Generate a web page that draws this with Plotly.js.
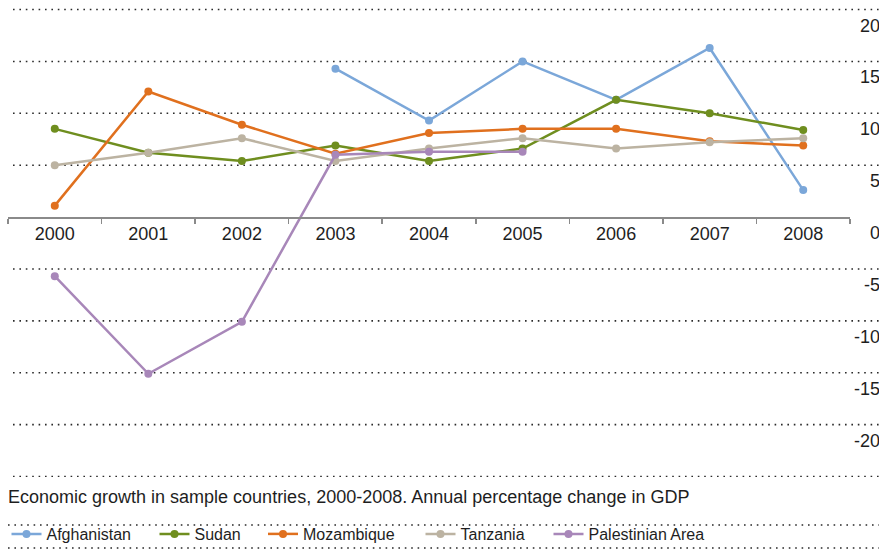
<!DOCTYPE html>
<html><head><meta charset="utf-8">
<script src="https://cdn.plot.ly/plotly-3.0.1.min.js"></script>
<style>html,body{margin:0;padding:0;background:#fff;} #chart{width:879px;height:552px;}</style>
</head><body><div id="chart"></div>
<script>
// ---- data ----
const years = ['2000','2001','2002','2003','2004','2005','2006','2007','2008'];
const afghanistan = [null, null, null, 14.3, 9.3, 15.0, 11.3, 16.3, 2.6];
const sudan       = [8.5, 6.2, 5.4, 6.9, 5.4, 6.6, 11.3, 10.0, 8.4];
const mozambique  = [1.1, 12.1, 8.9, 6.1, 8.1, 8.5, 8.5, 7.3, 6.9];
const tanzania    = [5.0, 6.2, 7.6, 5.4, 6.6, 7.6, 6.6, 7.2, 7.6];
const palestinian = [-5.7, -15.1, -10.1, 6.0, 6.3, 6.3, null, null, null];
const seriesNames = ['Afghanistan', 'Sudan', 'Mozambique', 'Tanzania', 'Palestinian Area'];
const yTickValues = [20, 15, 10, 5, 0, -5, -10, -15, -20];
const yTickLabels = ['20', '15', '10', '5', '0', '-5', '-10', '-15', '-20'];
const gridValues  = [20, 15, 10, 5, -5, -10, -15, -20, -25];
const caption = 'Economic growth in sample countries, 2000-2008. Annual percentage change in GDP';

// ---- styling / layout ----
const seriesData = [afghanistan, sudan, mozambique, tanzania, palestinian];
const seriesColors = ['#7ba7d9', '#6f8e1f', '#e0701e', '#bcb3a2', '#a887b9'];
const W = 879, H = 552, ML = 8, MR = 29, MT = 0, MB = 75;
const PW = W - ML - MR, PH = H - MT - MB;
const YMIN = -25.05, YMAX = 20.92;
const px = p => (p - ML) / PW;
const py = p => (H - MB - p) / PH;
const FONT = 'Liberation Sans, Arial, sans-serif';
const TXT = '#1e1e1e';
const legendMarkerX = [26.5, 174.5, 283, 440.5, 568.5];

const traces = seriesNames.map((name, i) => ({
  type: 'scatter', mode: 'lines+markers', name: name,
  x: years, y: seriesData[i],
  line: {color: seriesColors[i], width: 2.5},
  marker: {color: seriesColors[i], size: 8},
  connectgaps: false,
  legend: i === 0 ? 'legend' : 'legend' + (i + 1),
  hoverinfo: 'skip'
}));

const layout = {
  width: W, height: H,
  margin: {l: ML, r: MR, t: MT, b: MB, pad: 0},
  paper_bgcolor: '#fff', plot_bgcolor: 'rgba(0,0,0,0)',
  font: {family: FONT, color: TXT},
  showlegend: true,
  xaxis: {
    type: 'category', range: [-0.5, 8.5], anchor: 'free',
    position: (0 - YMIN) / (YMAX - YMIN),
    showline: true, linecolor: '#8a8a8a', linewidth: 1.5,
    ticks: 'outside', ticklen: 5, tickwidth: 1.5, tickcolor: '#8a8a8a',
    tickson: 'boundaries', showgrid: false, zeroline: false,
    tickfont: {size: 18, color: TXT, family: FONT}, fixedrange: true
  },
  yaxis: {
    range: [YMIN, YMAX], showgrid: false, zeroline: false,
    showticklabels: false, showline: false, ticks: '', fixedrange: true
  },
  shapes: [],
  annotations: []
};

gridValues.forEach(v => layout.shapes.push({
  type: 'line', xref: 'paper', yref: 'y', x0: px(13), x1: px(879), y0: v, y1: v,
  line: {color: '#2a2a2a', width: 1.6, dash: '1.6px,4.8px'}, layer: 'below'
}));
[525, 548].forEach(p => layout.shapes.push({
  type: 'line', xref: 'paper', yref: 'paper', x0: px(8), x1: px(879), y0: py(p), y1: py(p),
  line: {color: '#2a2a2a', width: 1.6, dash: '1.6px,4.8px'}, layer: 'below'
}));

yTickValues.forEach((v, i) => layout.annotations.push({
  xref: 'paper', yref: 'y', x: px(881.5), y: v, xanchor: 'right', yanchor: 'middle',
  yshift: -16, showarrow: false, text: yTickLabels[i],
  font: {size: 18, color: TXT, family: FONT}
}));
layout.annotations.push({
  xref: 'paper', yref: 'paper', x: px(6), y: py(497), xanchor: 'left', yanchor: 'middle',
  showarrow: false, text: caption, font: {size: 18, color: TXT, family: FONT}
});

seriesNames.forEach((n, i) => {
  const key = i === 0 ? 'legend' : 'legend' + (i + 1);
  layout[key] = {
    orientation: 'h', xref: 'paper', yref: 'paper',
    x: px(legendMarkerX[i] - 20), y: py(534), xanchor: 'left', yanchor: 'middle',
    bgcolor: 'rgba(0,0,0,0)', borderwidth: 0,
    font: {size: 16, color: TXT, family: FONT}, itemclick: false, itemdoubleclick: false
  };
});

Plotly.newPlot('chart', traces, layout, {displayModeBar: false, staticPlot: true});
</script>
</body></html>
